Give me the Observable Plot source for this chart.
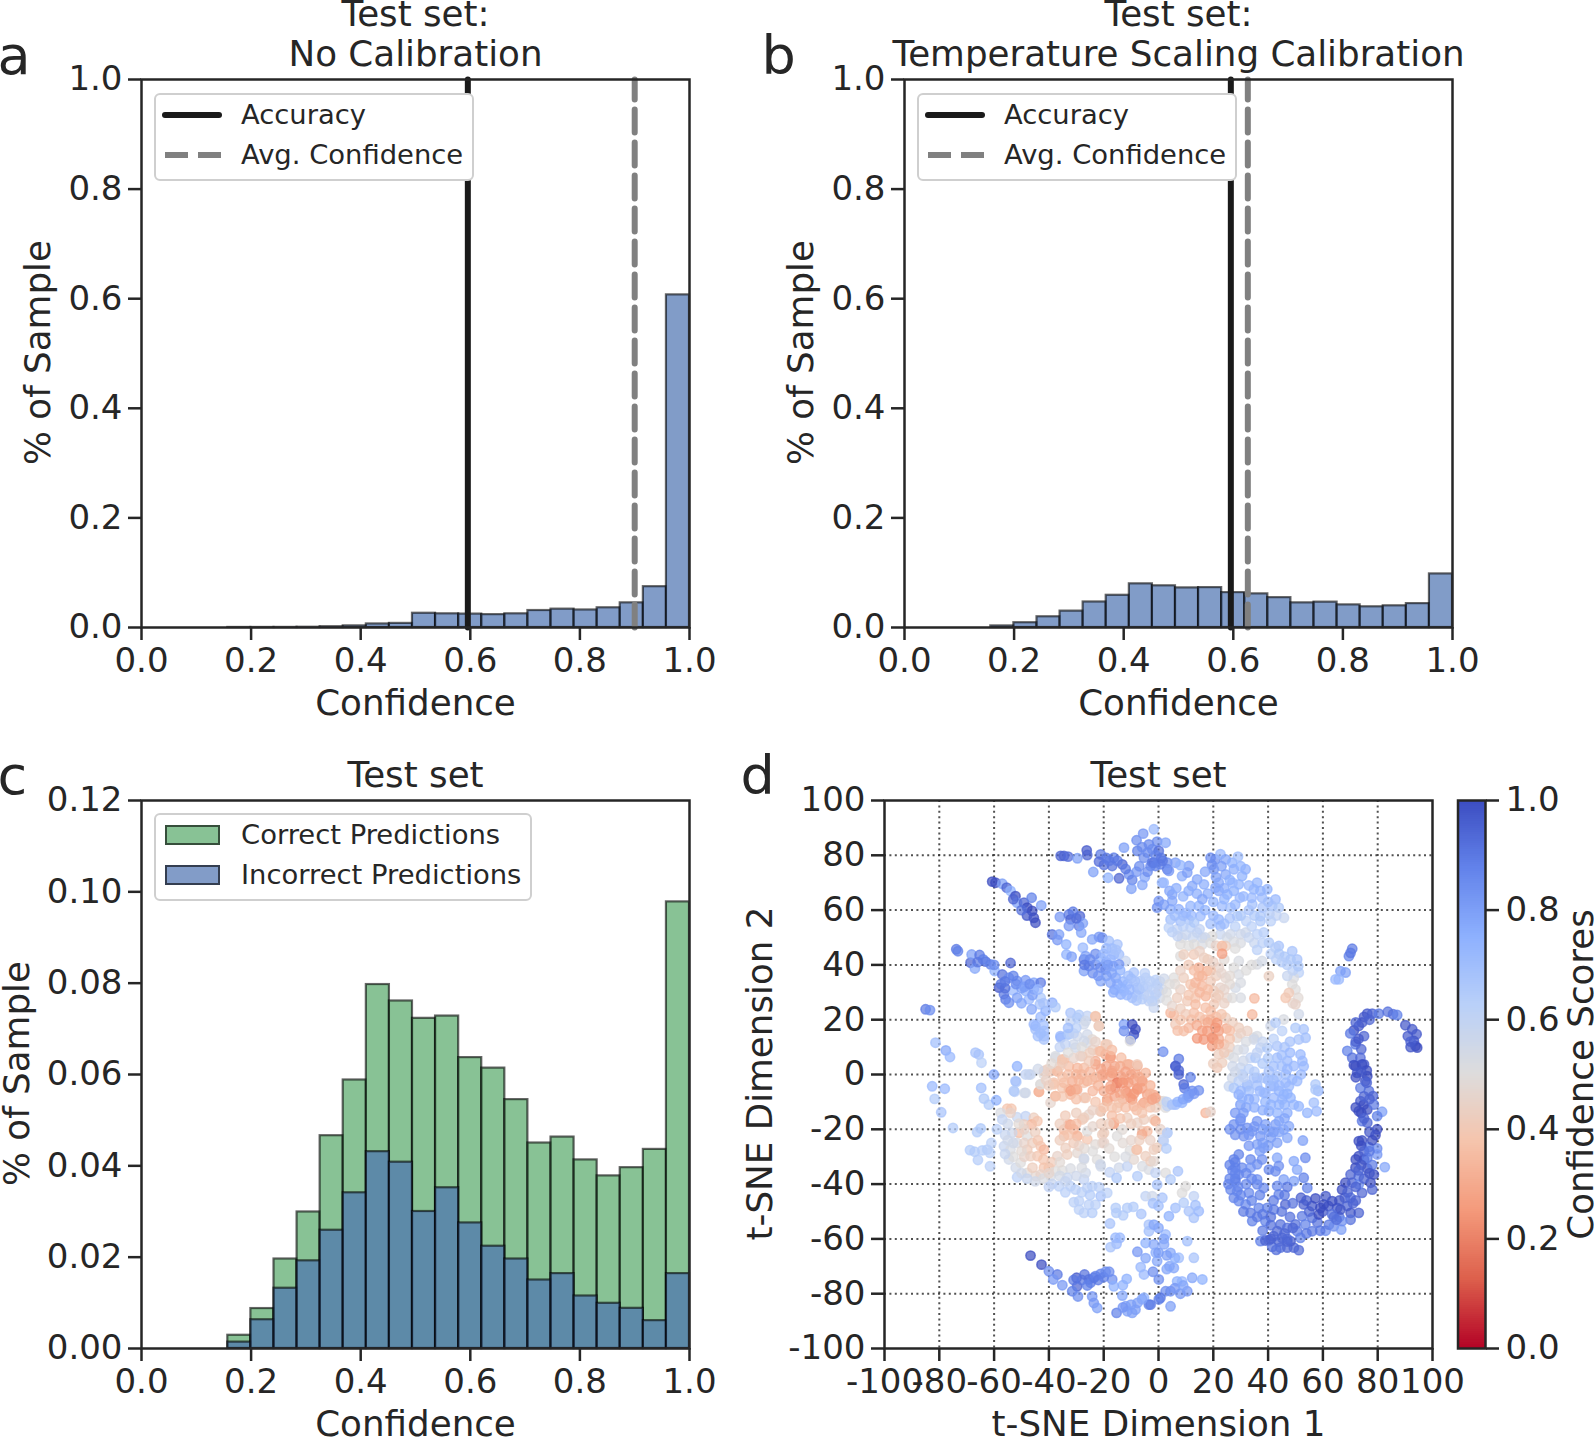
<!DOCTYPE html>
<html><head><meta charset="utf-8">
<script src="https://cdn.jsdelivr.net/npm/d3@7"></script>
<script src="https://cdn.jsdelivr.net/npm/@observablehq/plot@0.6"></script>
<style>
html,body{margin:0;padding:0;background:#fff}
#chart{position:relative;width:1594px;height:1437px;overflow:hidden;background:#fff;font-family:"DejaVu Sans",sans-serif;color:#262626}
#chart svg{position:absolute;background:transparent;max-width:none}
.legend{position:absolute;box-sizing:border-box;background:#fff;border:2px solid #cfcfcf;border-radius:6px}
.legend span{position:absolute;font-size:27.4px;line-height:32px;white-space:nowrap}
.legend i{position:absolute;display:block;box-sizing:border-box}
</style></head><body><div id="chart"></div>
<script>
// ---------- histogram data ----------
const binEdges=[0.1575,0.1996,0.2418,0.2839,0.326,0.3681,0.4103,0.4524,0.4945,0.5366,0.5788,0.6209,0.663,0.7051,0.7473,0.7894,0.8315,0.8736,0.9158,0.9579,1.0];
const noCalibration=[0.0001,0.0001,0.0002,0.0005,0.0015,0.003,0.0065,0.0075,0.026,0.025,0.0245,0.0235,0.025,0.031,0.0335,0.032,0.036,0.045,0.0745,0.607];
const allPredictions=[0.0029,0.00875,0.0196,0.0299,0.0466,0.0588,0.0797,0.0761,0.0723,0.0728,0.0637,0.0614,0.0545,0.045,0.0463,0.0413,0.0378,0.0396,0.0436,0.0978];
const incorrect=[0.0014,0.0063,0.0132,0.0192,0.0259,0.0341,0.0431,0.0408,0.03,0.0352,0.0275,0.0224,0.0196,0.015,0.0164,0.0115,0.0099,0.0088,0.0061,0.0164];
const accuracyLine=0.5955, confidenceA=0.9, confidenceB=0.6265;
const ticks01=[0,0.2,0.4,0.6,0.8,1];
const ticksC=[0,0.02,0.04,0.06,0.08,0.1,0.12];
const ticksTsne=[-100,-80,-60,-40,-20,0,20,40,60,80,100];
const gridTsne=[-80,-60,-40,-20,0,20,40,60,80];

// ---------- t-SNE points: [dim1, dim2, confidence] ----------
const topChain=[[-35.7,79.8,.95],[-34.5,79.8,.95],[-33,79.5,.93],[-29.6,78.9,.8],[-26.2,81.8,.97],[-26,80.1,.95],[-23.8,73.9,.8],[-21.1,80.3,.9],[-21.7,77.7,.93],[-19.9,76.5,.92],[-18.4,71.8,.75],[-16.3,79.1,.88],[-16.9,76.1,.92],[-13.2,76.7,.95],[-14.4,71.6,.95],[-10.8,73,.85],[-9.6,71,.88],[-9.9,67.8,.8],[-5.9,69.2,.78],[-5,72,.78],[-12.6,82.8,.8],[-8,85.5,.85],[-7.7,81.6,.88],[-5.6,87.9,.82],[-5.3,79.1,.85],[-2.9,76.1,.85],[-3.5,84,.86],[-1.7,89.5,.72],[-.5,85,.85],[2.6,84.6,.78],[-2.3,82.2,.85],[.1,81.6,.92],[-1.7,77.3,.92],[.7,76.7,.88],[3.2,74.9,.9],[1.3,70,.72],[-2.3,77.3,.9],[-1.1,76.1,.88],[3.2,77.3,.85],[-15,78,.9],[-18,78,.9],[-12,75,.9],[-19,79,.9],[-8,74,.82],[-7,76,.85],[-4,74,.85],[-1,80,.88],[1,79,.9],[1.5,78,.9],[-6,83,.85],[-4,81,.85]];
const hookChain=[[-60.7,70.4,1],[-59.5,70,1],[-57,69.6,.8],[-55.4,68.2,.95],[-54,67,.75],[-52.2,65.1,1],[-51.6,62.7,.8],[-49.1,62.7,.95],[-46.3,64.5,.88],[-47.9,60.9,1],[-46.1,59.7,1],[-45.5,57.2,1],[-44.9,55.4,1],[-42.8,61.7,.8],[-36,57.5,.82],[-32.7,58.4,.9],[-32.1,56.6,.95],[-28.7,57.8,.95],[-31.2,59.4,.9],[-32.7,54.2,.82],[-29,54.2,.9],[-27.6,55.2,.8],[-28.2,51.8,.78],[-38.8,51.1,.92],[-36.3,51.1,.8],[-36.9,49.1,.82],[-33.7,47.5,.75],[-33.6,43.8,.75],[-31.7,43,.8],[-27.6,46.3,.72],[-24.2,49.3,.78],[-21.7,50.2,.82],[-20.5,49.9,.85],[-27.2,42,.9],[-26.6,43.2,.8],[-27.2,37.8,.8],[-25.4,39.6,.88],[-23,40.2,.85],[-21.1,42.6,.75],[-21.1,39,.85],[-19.3,38.4,.85],[-21.1,34.1,.78],[-18.1,48.7,.7],[-15,47.5,.68],[-16.3,43.8,.72],[-14.4,43.8,.7],[-12,41.4,.58],[-14.4,40.2,.82],[-15.6,35.3,.78],[-13.8,29.2,.76],[-11.4,32.9,.72],[-9,37.2,.68],[-12.6,30.5,.72],[-7.8,31.7,.7],[-9.6,28,.7],[-6.5,34.1,.65],[-5.3,29.2,.65],[-4.7,35.3,.64],[-3.5,26.8,.6],[-13,34,.74],[-10,35,.7],[-16,31,.76],[-8,29,.68],[-4,32,.62],[-23,44,.85],[-25,42,.85],[-24,37,.85],[-22,36,.82],[-19,41,.78],[-20,44,.72],[-27,40,.9],[-30,57,.92],[-48,58,.98],[-50,60,.92],[-53,64,.95],[-19,46,.72],[-17,46,.7],[-15.5,45.5,.68],[-17.5,42,.72],[-18.5,40,.8],[-16.5,39.5,.8],[-14,38,.75],[-17,37,.78],[-19,36,.8],[-15,33,.76],[-17.5,33.5,.78],[-13.5,31.5,.74],[-16.5,30,.76],[-11,36,.7],[-8.5,34,.68],[-10.5,31,.72],[-7,31,.68],[-5.5,32,.64],[-11.5,29,.72],[-8,27,.68],[-6,27.5,.64],[-3.5,29,.6],[-2,31,.62],[-1,34.5,.62],[.5,34,.6],[-3,34,.62],[-5,37,.62],[-1.5,27,.58],[.5,28,.55],[1.5,31,.55]];
const leftChain=[[-85,23.8,.9],[-83.4,23.5,.85],[-73.8,45.7,.9],[-73.2,45,.88],[-68.6,40.8,.95],[-68.2,43.8,.8],[-65.3,43.6,.9],[-67,38.7,.78],[-63.1,41.2,.92],[-61.3,40.2,.88],[-59.8,37.8,.75],[-54,40.7,.95],[-57,36.5,.92],[-54.6,35.3,.85],[-51.6,34.1,.85],[-48.5,34.4,.82],[-45.5,33.5,.78],[-43,33.5,.9],[-58.2,31.7,.97],[-56.4,29.3,.9],[-53.1,30.7,.72],[-48.5,30.5,.75],[-45.5,31.1,.78],[-55.8,27.4,.9],[-51.6,28,.8],[-54.6,26.2,.85],[-47.3,27.4,.72],[-43,28,.66],[-43.3,25.6,.68],[-46.3,23.8,.78],[-41.2,23.2,.75],[-38.8,26.2,.76],[-37.6,24.6,.66],[-45.5,18.3,.72],[-44.9,16.5,.7],[-41.8,14,.7],[-41.8,15.9,.7],[-44.9,17.7,.72],[-41.8,12.8,.68],[-57.5,33,.9],[-56,31.5,.92],[-50,31.5,.8],[-46,29,.8],[-50,26,.78],[-52,33,.85],[-49,32,.8],[-47,33,.85],[-44,31,.72],[-42,26,.68],[-56,34,.9],[-53,36,.88],[-60,40,.85],[-64,42,.88],[-66,41,.9],[-43,21,.72],[-44,14,.7],[-42,18,.7],[-43,15,.7]];
const leftScatter=[[-81.4,11.6,.7],[-77.6,8.8,.78],[-76.1,6.4,.72],[-66.8,8,.68],[-65.6,7.3,.68],[-64.6,4.3,.62],[-51.6,3,.75],[-82.6,-4.3,.72],[-78,-5.2,.72],[-81.7,-8.9,.65],[-79.3,-13.8,.68],[-75,-19.5,.65],[-64.7,-4.9,.7],[-63.7,-8.8,.66],[-61.9,-11,.65],[-59.2,-9.4,.75],[-64.9,-19.7,.66],[-66.2,-21,.65],[-68.8,-27.6,.65],[-67.1,-28.2,.65],[-65.9,-31.2,.64],[-64.3,-27.7,.64],[-62.5,-27.4,.64],[-61,-25,.62],[-61.5,-28.6,.62],[-61.5,-33.5,.62],[-60.1,0,.78],[-51.9,-2.7,.65],[-52.5,-6.3,.62],[-48.9,-6.7,.55],[-46.7,0,.57],[-48.5,0,.6],[-41.8,0,.5],[-43,-3.6,.5],[-47.3,0,.58],[-52.2,-2.4,.68],[-52.8,-6,.65]];
const paleNorth=[[-35.7,13.4,.72],[-33.3,14.6,.65],[-29.6,14,.55],[-30.9,11,.55],[-26,11.6,.52],[-26,14.6,.55],[-24.2,12.8,.48],[-19.3,11,.38],[-37.6,6.1,.52],[-34.5,5.5,.36],[-27.8,6.7,.4],[-32.1,22.5,.68],[-29,21.7,.65],[-26,21.4,.6],[-23,21.1,.4],[-21.7,17.7,.4],[-32.1,19.5,.6],[-27.2,18.3,.55],[-35.8,14,.72],[-32.7,14.6,.65],[-29.7,20.7,.65],[-26.6,19.5,.55],[-23,21.3,.38],[-21.8,17.7,.42],[-27.2,12.2,.55],[-30.3,9.8,.55],[-37.6,6.7,.52],[-12.6,18.3,.8],[-12.6,15.9,.85],[-9.6,18.3,1],[-8.4,16.5,1],[-9,14.6,1],[-10.2,12.8,.9],[-10.4,12.2,.5],[-34,11,.6],[-31,15,.6],[-28,10,.5],[-24,9,.45],[-30,17,.62],[-36,10,.6],[-33,17,.7]];
const orangeCore=[[-23,4.9,.3],[-21.7,8.5,.38],[-17.5,6.7,.26],[-19.3,7.3,.3],[-13.6,6.1,.35],[-16.9,1.3,.3],[-10.8,3.7,.3],[-7.7,3.1,.3],[-39.4,1.2,.4],[-36.9,1.2,.4],[-32.7,3,.35],[-35.1,4.3,.42],[-29.6,2.4,.33],[-27.2,2.4,.35],[-23,3.7,.3],[-20.5,0,.27],[-17.5,-.6,.28],[-15,-3,.2],[-13.8,-.6,.26],[-11.4,-6.7,.26],[-9.6,-9.1,.27],[-7.7,-5.5,.26],[-5.9,-2.4,.28],[-4.1,-7.3,.28],[-17.5,-5.5,.25],[-18.7,-9.7,.28],[-27.2,-3,.38],[-32.1,-7.3,.33],[-32.7,-5.5,.32],[-30.3,-5.5,.33],[-35.1,-4.9,.38],[-38.2,-3,.38],[-37.6,-7.9,.38],[-39.4,-10.3,.46],[-43.6,-6.3,.33],[-27.2,-8.5,.45],[-17.5,6.1,.27],[-18.7,11,.42],[-21.2,8.5,.35],[-25.4,4.9,.4],[-28.5,6.7,.45],[-35.1,5.5,.38],[-37,1.2,.35],[-40.6,1.8,.42],[-31.5,-2.4,.3],[-32.1,-6,.27],[-29.7,-5.5,.3],[-34.5,-3,.35],[-38.2,-3.6,.38],[-37.6,-7.9,.36],[-43.7,-6.3,.33],[-26.6,-8.5,.38],[-26,-2.4,.33],[-20.5,-.6,.28],[-24.2,-1.8,.35],[-16.9,.6,.27],[-15.1,-3,.2],[-15.7,-4.8,.22],[-17.5,-4.2,.28],[-12,-6.1,.26],[-10.2,-8.5,.25],[-7.8,-5.1,.25],[-6,-2.4,.28],[-4.7,.6,.33],[-8.4,.6,.3],[-11.4,3.7,.33],[-7.8,3.7,.4],[-12.6,-1.8,.3],[-18.7,-9.1,.32],[-13.9,-7.3,.3],[-5.3,-10.3,.27],[-1.7,-7.5,.3],[-3.5,-9.7,.33],[.7,-9.7,.42],[2.6,-12.1,.5],[-41.8,1.3,.45],[-43.1,-3.6,.5],[-48.5,-6.7,.55],[-33,0,.36],[-35,-1,.37],[-30,0,.33],[-28,0,.33],[-25,1,.34],[-23,-1,.34],[-21,2,.29],[-19,3,.28],[-16,3,.28],[-14,3,.3],[-12,1,.28],[-10,0,.28],[-13,-3,.24],[-11,-3,.25],[-9,-2,.27],[-7,-1,.3],[-6,-5,.27],[-3,-4,.32],[-3,-7,.33],[-9,-7,.25],[-13,-9,.3],[-16,-8,.28],[-20,-6,.3],[-22,-4,.32],[-24,-6,.34],[-29,-2,.33],[-35,-8,.38],[-30,-9,.36],[-23,-10,.38],[-40,-4,.42],[-41,-2,.44],[-36,3,.4],[-44,2,.55],[-39,4,.48],[-31,6,.45],[-33,8,.5],[-25,8,.42],[-23,12,.45],[-17,9,.35]];
const orangeSouth=[[-21.1,-13.4,.36],[-16.3,-17.6,.3],[-14.4,-10.3,.38],[-11.4,-15.8,.42],[-9,-11.6,.33],[-5.9,-11,.33],[-7.7,-17.6,.44],[-13.2,-20.1,.48],[-19.9,-21.3,.42],[-5.9,-20.7,.4],[-4.1,-20.7,.35],[-25.4,-14.6,.46],[-27.8,-16.4,.4],[-32.1,-18.3,.31],[-34.5,-20.1,.36],[-29.6,-22.5,.35],[-26,-23.7,.38],[-26,-20.7,.5],[-33.9,-26.8,.42],[-36.9,-29.8,.45],[-33.3,-29.2,.42],[-29.6,-28.6,.47],[-27.2,-31,.52],[-22.4,-31,.5],[-20.5,-25,.45],[-15.1,-22.5,.5],[-10.4,-27.7,.5],[-8,-27.4,.38],[-5.9,-33.5,.52],[-14.4,-34,.55],[-21.1,-33.5,.55],[-17.8,-35.7,.6],[-15.3,-37.7,.66],[-11.4,-33.5,.6],[-7.7,-37.1,.65],[-3.5,-34.7,.52],[-9,-31,.47],[-4.7,-29.8,.42],[-15.1,-12.1,.38],[-16.3,-18,.3],[-21.2,-13.4,.42],[-27.2,-15.8,.42],[-32.7,-18.2,.31],[-34.5,-22.5,.36],[-29.7,-22.5,.36],[-20.5,-21.9,.42],[-23,-25.5,.48],[-19.9,-24.9,.45],[-27.2,-30.6,.55],[-21.2,-32.8,.55],[-6,-21.9,.3],[-7.8,-27.4,.38],[-2.9,-31.6,.42],[-1.7,-16.4,.42],[-5.3,-16.4,.42],[3.2,-21.3,.68],[1.9,-24.3,.62],[-.5,-26.7,.42],[-1.1,-17,.33],[.7,-20,.45],[3.2,-21.3,.62],[1.7,-23.7,.6],[2.9,-27,.65],[-1.7,-27.4,.42],[-1.7,-31.6,.47],[-1.1,-35.9,.6],[2.6,-35.9,.5],[-20,-12,.38],[-17,-12,.38],[-12,-12,.35],[-8,-13,.36],[-6,-14,.38],[-3,-12,.37],[-1,-12,.42],[-10,-18,.42],[-14,-16,.38],[-17,-15,.36],[-24,-13,.44],[-30,-14,.42],[-34,-15,.4],[-36,-18,.42],[-30,-18,.36],[-31,-20,.33],[-33,-22,.38],[-36,-24,.42],[-31,-25,.4],[-29,-26,.44],[-27,-27,.48],[-24,-28,.5],[-18,-27,.48],[-16,-30,.5],[-12,-30,.52],[-7,-24,.42],[-3,-24,.44],[-10,-24,.46],[-13,-25,.48],[-18,-18,.42],[-21,-18,.42],[-24,-19,.46]];
const leftRing=[[-55.2,-12.5,.38],[-53.7,-12.5,.38],[-57.6,-14,.52],[-57,-16.4,.6],[-51.6,-15.6,.58],[-48.5,-15.2,.6],[-45.5,-15.8,.42],[-46.3,-18.2,.33],[-44.2,-17,.38],[-49.1,-18.2,.42],[-50.9,-21.3,.35],[-47.9,-22.5,.5],[-53.4,-21.3,.56],[-56.4,-26.2,.58],[-51.6,-25,.52],[-54,-27.4,.52],[-47.9,-27.4,.4],[-43,-26.2,.38],[-41.8,-27.4,.34],[-44.2,-29.8,.38],[-46.7,-29.8,.42],[-54.6,-31,.55],[-52.1,-34,.55],[-50.3,-32.2,.5],[-51.6,-37.5,.62],[-47.9,-35.9,.48],[-44.8,-37.1,.47],[-41.8,-34,.38],[-40,-34,.38],[-43,-36.5,.45],[-39.4,-37.1,.52],[-37.6,-35.3,.5],[-35.1,-35,.5],[-32.1,-34.3,.52],[-33.3,-37.7,.58],[-38.8,-39.9,.58],[-36.3,-40.8,.62],[-32.1,-40.8,.62],[-30.3,-42,.62],[-27.2,-38.3,.6],[-26,-41.4,.62],[-26.6,-35.9,.55],[-24.2,-40.8,.62],[-49,-20,.45],[-53,-30,.5],[-49,-30,.45],[-46,-34,.42],[-56,-22,.58],[-55,-24,.55],[-53,-25,.55],[-56,-29,.58],[-50,-28,.48],[-49,-25,.45],[-46,-25,.42],[-44,-24,.38],[-45,-21,.42],[-50,-36,.55],[-48,-38,.58],[-45,-39,.55],[-42,-38,.52],[-40,-36,.46],[-42,-31,.38],[-39,-32,.4],[-36,-32,.48],[-36,-37,.54],[-34,-39,.58],[-30,-37,.56],[-28,-34,.52],[-40,-41,.6],[-28,-43,.62],[-25,-44,.64],[-34,-43,.62],[-51,-18,.48],[-55,-18,.56],[-54,-14,.45],[-59,-20,.62]];
const paleSouth=[[-30.9,-46.6,.62],[-29,-46.2,.62],[-29,-49.3,.62],[-27.2,-50.5,.62],[-25.4,-47.5,.62],[-24.2,-50.5,.64],[-23,-47.5,.62],[-21.1,-44.4,.68],[-21.7,-41.1,.62],[-18.7,-43.2,.62],[-17.7,-54.4,.68],[-15.6,-48.7,.65],[-15.4,-50.5,.65],[-12.9,-51.4,.65],[-11.4,-48.7,.65],[-9.2,-48.3,.65],[-6.3,-50.9,.68],[-15.7,-59.6,.72],[-14.1,-59.6,.72],[-15.3,-61.8,.72],[-17.5,-63,.68],[-7.7,-64.7,.82],[-4.7,-61.5,.75],[-3.5,-57.2,.7],[-4.7,-67,.78],[-6.5,-70.3,.72],[-5.3,-73,.72],[-3.5,-54.8,.68],[-4.7,-44.4,.6],[4.4,-38.3,.65],[7.1,-35.3,.68],[-.5,-40.2,.68],[-2.3,-44.4,.55],[1.4,-45,.68],[8.6,-43.2,.5],[9.9,-40.8,.5],[12.9,-44.4,.6],[6.2,-48.7,.7],[3.8,-51.7,.75],[11.1,-49.9,.68],[12.9,-52.3,.68],[14.7,-49.9,.72],[13.5,-47.7,.7],[9.2,-46.8,.65],[-1.7,-54.8,.78],[2.6,-58.4,.72],[10.5,-60.8,.7],[-1.7,-62,.78],[4.4,-65.1,.78],[7.4,-66.9,.7],[12.9,-66.9,.68],[5.6,-70.6,.78],[-.5,-68.1,.78],[.1,-74.8,.85],[12.3,-74.2,.78],[16,-74.8,.75],[8.6,-75.5,.72],[6.8,-75.5,.75],[4.4,-79.1,.85],[2.6,-79.1,.85],[10.5,-79.1,.82],[.7,-81.5,.9],[4.4,-84.6,.8],[-2.9,-84,.9],[.1,-82.1,.88],[3,-71,.78],[-1,-65,.76],[2,-62,.78],[0,-48,.7],[-2,-47,.7],[0,-56,.78],[2,-60,.78],[0,-65,.8],[4,-70,.78],[6,-67,.75],[3,-66,.8],[-2,-72,.85],[6,-78,.82],[8,-80,.82],[9,-77,.78]];
const southArc=[[-46.7,-66.1,1],[-42.7,-69.4,1],[-40,-71.8,.85],[-36.9,-73,.9],[-38.4,-74.8,.82],[-35.1,-76.9,.82],[-29.9,-74.2,.97],[-29.7,-77.3,.95],[-31.5,-79.1,.88],[-29.4,-81,.85],[-25.4,-74.8,.9],[-23.6,-74.2,.9],[-21.1,-72.8,.87],[-19.3,-72,.85],[-24.8,-76,.9],[-23,-73.6,.88],[-16.9,-74.8,.85],[-16.3,-77.3,.75],[-13,-76.9,.75],[-11.6,-74.6,.75],[-24.2,-81,.82],[-23.6,-83.4,.82],[-22.4,-85.2,.8],[-13.2,-80.7,.78],[-15.3,-87,.88],[-12,-84.6,.8],[-9.6,-87,.8],[-7.7,-83.4,.8],[-11.4,-86.4,.8],[-5.3,-81.5,.75],[-3.5,-84,.88],[-8.4,-85.8,.8],[-28,-75,.9],[-22,-75,.9],[-20,-74,.88],[-26,-77,.88],[-27,-73,.92],[-18,-72,.85],[-31,-75,.9],[-10,-84,.8],[-6,-82,.78],[-13,-85,.82]];
const hubDark=[[1.7,8.3,.85],[7.4,5.7,.9],[6.2,3.1,.95],[7.4,1.5,.95],[6.2,3,.95],[7.4,0,.95],[9.2,-3.6,.95],[11.7,-1,.88],[14.7,-5.8,.85],[12.3,-6,.85],[10.5,-8.5,.78],[8.6,-10.3,.75],[6.2,-11,.72],[3.2,-11.5,.6],[1.9,-9.7,.5],[-1.1,-8.5,.28],[-2.3,-9.1,.28],[17.2,-14,.33],[19,-13.6,.45],[9.5,-5,.9],[11,-7,.82],[3,-10,.62],[5,-11,.68],[7,-10,.74],[9,-9,.78],[11,-8,.8],[13,-7,.82]];
const upperLight=[[19,79.1,.85],[20.8,78.5,.85],[22.6,80.4,.72],[20.2,74.9,.83],[24.5,78.5,.78],[26.9,77.3,.75],[29,79.5,.7],[24.5,73,.78],[27.5,74.9,.76],[31.8,74.9,.76],[30.5,72.4,.75],[22,67,.78],[20.8,68.2,.78],[25.1,65.7,.75],[27.5,67,.75],[29.7,64.5,.72],[29.3,69.4,.74],[34.8,67.6,.74],[37.2,67,.74],[39.7,67.6,.74],[37.8,64.5,.72],[42.7,63.9,.72],[23.2,61.5,.72],[28.7,57.8,.66],[26.3,60.9,.7],[34.2,62.1,.7],[37.2,57.8,.66],[41.5,61.5,.68],[43.9,60.9,.66],[45.8,57.2,.58],[37.2,56,.66],[22,56.6,.74],[22.6,54.2,.74],[11.7,61.5,.74],[4.4,60.3,.76],[7.4,60.3,.76],[14.7,61.5,.74],[15.3,57.8,.72],[5,65.7,.78],[5,63.3,.78],[.1,63.3,.82],[-.5,60.9,.84],[4.4,56.6,.7],[12.3,68.8,.78],[14.1,71.2,.78],[16.6,69.4,.76],[8.6,72.4,.76],[11.1,76.1,.8],[6.2,77.3,.8],[8,76.4,.74],[10.5,73.7,.8],[1.9,70,.72],[3.8,74.3,.82],[19.5,76.5,.84],[21,72,.8],[27,70,.72],[40,63,.7],[33,60,.68],[9,58,.72],[11,56.5,.68],[17,74,.78],[2,62,.8],[4,67,.78],[6.5,68,.76],[9,65,.74],[11,67,.76],[14,66,.76],[18,66,.76],[20,63,.74],[24,68,.76],[26,71,.75],[28,62,.72],[31,65,.72],[33,69,.72],[36,70,.74],[34,64.5,.72],[38,61,.68],[40.5,58.5,.64],[43,58,.6],[41,56,.62],[35,58,.66],[32,56,.62],[30,58,.66],[26,57,.68],[24,55,.7],[20,58,.72],[17,60,.74],[19,55,.7],[16,64,.78],[22,70,.78],[23,76,.8],[30,76,.74],[24,64,.74],[28,54,.62],[34,54,.62]];
const midBand=[[3.8,53.6,.62],[6.8,53,.6],[11.7,53.6,.62],[14.1,51.8,.6],[16,49.9,.58],[30,51.2,.56],[31.8,51.8,.56],[26.3,51.2,.56],[22.6,51.2,.58],[38.4,51.8,.64],[36,51.2,.62],[40.3,48.1,.66],[43.9,46.9,.68],[48.8,45,.68],[50.6,42,.68],[48.2,42,.66],[42.7,46.3,.64],[51.2,37.2,.62],[8.6,49.9,.52],[8,47.5,.5],[19.6,50.5,.5],[49.4,35.3,.52],[48.8,32.9,.5],[36,40.2,.52],[37.8,41.4,.54],[29.3,41.4,.52],[27.5,39,.5],[29.3,36.5,.52],[28.1,31.7,.54],[30,33.5,.52],[40.3,35.9,.43],[51.2,22,.55],[45.7,20.1,.52],[40.9,17.7,.55],[34.8,13.4,.52],[36,14,.52],[28.7,13.4,.47],[5.6,35.3,.5],[8,43.2,.5],[-1.1,29.2,.62],[-.5,32.9,.62],[.1,30.5,.6],[-2.3,26.8,.62],[-1.7,24.4,.58],[2,35,.55],[3,30,.5],[34,40,.5],[24,42,.48],[32,38,.5],[25,28,.46],[6,58,.7],[8,56,.7],[10,59,.72],[12,58,.72],[13,55.5,.66],[9,54,.62],[5,52,.62],[7,50.5,.6],[10,51,.58],[12.5,50,.58],[15,53,.6],[17,50,.56],[16,47.5,.52],[13,47.5,.5],[11,47,.5],[19,48,.5],[21,47,.45],[25,50,.54],[27.5,48.5,.52],[30,48,.52],[28,46,.5],[33,50,.58],[35,48,.58],[38,48,.62],[36,45.5,.62],[41,44,.62],[44,44,.66],[46,43,.66],[47,40,.64],[45,41,.64],[43,42,.62],[49,38,.62],[51,39.5,.66],[47,36,.58],[50,31,.5],[51,28,.48],[49,26,.46]];
const salmonCore=[[9.2,43.8,.42],[12.9,43.8,.4],[16.6,42.6,.42],[22,39,.45],[24.5,35.3,.46],[22.6,31.7,.45],[9.2,35.3,.42],[12.9,31.7,.38],[6.8,28,.42],[10.5,26.8,.4],[11.7,32.9,.38],[13.5,28,.37],[20.2,30.5,.42],[6.2,18.3,.4],[9.2,15.9,.36],[5.6,21.9,.35],[46.4,28,.38],[50,25.6,.45],[47.6,29.8,.4],[24.5,46.9,.43],[20.2,25.6,.4],[29.3,17.1,.42],[32.4,15.9,.44],[24.5,20.7,.42],[14.7,39,.31],[17.8,37.8,.32],[13.5,33.5,.34],[16,32.3,.33],[17.2,28.6,.32],[13.5,25.6,.35],[17.2,24.4,.36],[19,23.1,.36],[4.4,22.5,.34],[35,27.8,.34],[34.2,21.9,.33],[23.2,46.9,.35],[12.9,22.5,.36],[14.7,35.9,.33],[18,42,.42],[15,45,.44],[19,34,.4],[21,28,.4],[8,38,.44],[11,40,.4],[13,38,.36],[16,36,.33],[19,38,.38],[21,36,.42],[20,41,.44],[23,37,.46],[26,36,.48],[26,33,.48],[24,31,.46],[22,29,.42],[24,26,.44],[27,28,.5],[30,28,.52],[18,31,.36],[15,30,.34],[11,29,.38],[8,31,.44],[6,33,.48],[4,33,.5],[3,27,.5],[5,25,.46],[8,24,.42],[10,22,.4],[12,20,.36],[15,21,.36],[17,20,.36],[19,20,.34],[21,21,.34],[8,20,.38],[7,16,.36],[11,17,.34],[14,18,.3],[16,16,.27],[18,19,.3]];
const redCore=[[23.2,44.1,.26],[14.1,13.2,.24],[16.5,12.8,.24],[19.6,13.4,.23],[21.4,18.9,.25],[17.8,15.9,.26],[22,15.9,.26],[24.8,16.8,.3],[19.6,10.4,.26],[20.8,17.1,.24],[22,7.3,.42],[23.2,4.3,.42],[25.7,7.3,.5],[21.4,2.5,.4],[27.5,6.1,.52],[31.1,9.2,.55],[34.8,12.8,.55],[24,11,.36],[22,13,.3],[26,13,.38],[20,13,.24],[22,11,.3],[24,8,.4],[20,4,.42],[26,10,.42],[23,22,.38],[27,19,.42],[30,15,.44],[26,16,.36]];
const rightLower=[[37.2,9.8,.6],[33.6,6.1,.6],[29.9,2.5,.58],[35.4,6.1,.66],[39.7,9.8,.66],[43.3,10.4,.68],[43.3,6.1,.7],[47,4.9,.72],[51.8,7.3,.72],[52.5,4.9,.72],[49.4,3.1,.72],[45.1,15.9,.62],[42.7,18.9,.64],[50,17,.66],[53,16.5,.68],[53.7,13.4,.7],[51.2,12.8,.68],[25.7,-4.3,.58],[26.9,-1.2,.55],[29.3,-2.4,.62],[32.4,-4.3,.66],[30.5,0,.62],[36,-1.2,.68],[38.4,-6.7,.7],[40.3,1.2,.68],[43.3,-.6,.7],[48.8,-1.8,.72],[46.4,-3,.72],[57.3,-3.6,.66],[58.3,-6,.72],[46.4,0,.7],[42.1,-4.3,.72],[39,-6.7,.72],[40.9,-4.2,.72],[50.6,-2.4,.72],[42.1,-8.5,.72],[45.1,-9.1,.72],[49.4,-11,.72],[47,-14,.76],[51.2,-11.6,.74],[54.3,-14,.74],[57.7,-13.4,.72],[56.7,-10.3,.7],[57.3,-5.5,.66],[40.3,-13.4,.76],[43.3,-14,.74],[45.7,-7.3,.74],[48.2,-8.5,.74],[47.6,-4.3,.72],[29.9,-11,.8],[30.5,-8.5,.74],[27.5,-4.9,.66],[32.4,-3.6,.68],[34.8,-1.2,.68],[38.4,-1.2,.68],[29.3,-7.3,.76],[28,1,.55],[33,2,.62],[45,3,.7],[32,12,.52],[29,9,.52],[31,5,.56],[36,8,.6],[40,6,.66],[38,12,.58],[42,13,.62],[46,10,.68],[48,12,.68],[48,8,.72],[45,7,.7],[38,4,.66],[42,3,.7],[47,2,.72],[35,1,.64],[31,-1,.6],[27,3,.55],[33,-6,.7],[36,-4,.7],[44,-6,.74],[52,0,.72],[53,3,.72],[42,-2,.7],[32,-12,.78],[35,-12,.76],[38,-13,.76],[35,-9,.72],[37,-6,.72],[39,-10,.74],[41,-11,.74],[44,-11,.74],[46,-11,.74],[40,-2,.7],[44,-4,.72],[47,-7,.74],[33,-9,.76],[30,-6,.72]];
const blueMid=[[31.1,-22.5,.84],[27.5,-18.2,.84],[36,-25.5,.8],[38.4,-26.8,.8],[37.2,-22.5,.82],[39,-18.2,.8],[42.7,-18.2,.8],[45.7,-20.1,.78],[47,-23.1,.78],[43.3,-24.9,.8],[47.6,-18.9,.78],[52.7,-24.1,.8],[29.9,-17,.84],[32.4,-19.5,.84],[40.3,-20.7,.8],[34.2,-20.7,.82],[27.5,-31,.88],[29.3,-29.2,.88],[33.6,-31,.86],[36,-32.8,.84],[30.5,-34,.86],[29.3,-36.5,.86],[28.1,-39,.87],[26.3,-42,.87],[28.7,-42.6,.86],[27.5,-45,.87],[31.8,-47.4,.86],[29.3,-46.2,.86],[36.6,-48.7,.88],[33.6,-50.5,.9],[34.2,-53.5,.88],[39,-53.5,.88],[39.7,-48.7,.88],[42.1,-49.3,.9],[33,-43.2,.86],[36,-40.1,.86],[38.4,-41.4,.86],[40.3,-34.7,.86],[42.7,-35.3,.86],[43.3,-30.4,.78],[43.9,-33.4,.84],[45.7,-38.3,.8],[43.3,-40.7,.86],[43.9,-43.8,.88],[46.3,-47.4,.95],[49.4,-31.6,.78],[53.6,-30.4,.86],[50.6,-34.7,.78],[53,-37.7,.88],[54.3,-41.4,.88],[49.4,-38.9,.8],[37.8,-31,.84],[33.6,-34,.82],[36,-38.3,.84],[27,-35,.86],[28,-34,.87],[29,-41,.86],[26,-20,.84],[28,-22,.84],[30,-20,.84],[33,-22,.82],[35,-19,.82],[36,-17,.82],[38,-20,.8],[41,-23,.8],[44,-21,.78],[46,-16,.78],[44,-17,.78],[42,-21,.8],[37,-28,.8],[33,-26,.82],[38,-25,.8],[28,-14,.82],[31,-14,.8],[30,-16,.82],[40,-26,.8],[28,-32,.88],[26,-33,.88],[28,-38,.88],[26,-38,.87],[28,-36,.87],[25.5,-40,.87],[30,-44,.87],[32,-36,.86],[32,-40,.86],[34,-38,.86],[34,-46,.88],[37,-44,.88]];
const blueSwath=[[56.1,-52.3,.92],[56.1,-57.2,.9],[53,-47.4,.96],[52.4,-51.7,.9],[50,-54.7,.92],[50.6,-57.2,.9],[47,-56,.92],[44.5,-54.7,.92],[43.3,-57.2,.94],[40.3,-60.5,.95],[37.2,-60.8,.88],[39,-60.6,.95],[41.5,-62.9,.92],[44.5,-63.2,.92],[47,-63.2,.94],[51.2,-64.1,.94],[49.4,-63.2,.94],[48.2,-60.8,.96],[51.8,-59.6,.88],[53.6,-54.7,.88],[45.1,-59.6,.94],[47,-60,.92],[42,-59,.94],[31,-50,.9],[36,-52,.9],[38,-51,.9],[41,-52,.92],[42,-46,.9],[46,-44,.9],[47,-41,.9],[45,-50,.92],[48,-52,.92],[49,-47,.92],[52,-45,.96],[55,-50,.94],[54,-46,.96],[58,-54,.92],[60,-50,.98],[56,-48,.98],[62,-48,.98],[64,-52,.92],[66,-46,.98],[68,-45,.96],[66,-52,.92],[61,-57,.85],[59,-57,.9],[54,-58,.9],[46,-58,.94],[44,-61,.94],[41,-60,.95],[43,-64,.92],[47,-61,.94],[41,-55,.92],[49,-56,.94],[38,-57,.9]];
const rightArc=[[71.3,16.1,1],[73.1,17.7,.97],[74.3,19,.97],[76.2,22.2,.97],[78,22.2,.95],[80.4,22.2,.9],[83.7,22.9,.92],[85.6,22,.92],[87.1,21.7,.88],[90.1,18,.98],[92.6,16.5,.98],[94.2,14.7,.97],[93.8,10.4,1],[93.2,12.2,.98],[94.4,9.8,1],[68.9,8.6,.88],[71.9,11,.9],[74,9.2,.95],[71.9,3.1,1],[75,3.7,.97],[70.7,6.1,.92],[73.7,6.1,.93],[76,1.5,1],[71.3,3.4,1],[74.3,3.7,1],[72.5,.6,.97],[76.2,-.6,1],[75.5,-2.4,.98],[73.7,-4.9,.9],[76.8,-6,.92],[78.3,-7.9,.95],[73.7,-9.7,.97],[74.9,-11,1],[73.1,-13.4,1],[76.2,-12.8,1],[78.6,-11,.9],[81.6,-13.6,.8],[79.8,-15.2,.88],[74.3,-17,.9],[76.2,-17.6,.95],[79.8,-20,1],[79.2,-22.1,1],[73.1,-24.3,1],[74.3,-24.1,1],[76.8,-26.5,.88],[79.8,-27,.85],[79.8,-29.2,.82],[73.1,-29.8,1],[75,-31,1],[82.6,-33.8,.78],[76.2,-30.4,.88],[71.9,-34,1],[76.2,-34.3,.98],[78.6,-36.5,1],[73.1,-37.1,.9],[70.1,-36.5,.95],[68.2,-39.5,1],[70.7,-39.5,.95],[77.4,-39.5,1],[78,-42,.95],[74.3,-43.2,.95],[73.1,-40.1,.85],[70.1,-45,.92],[68.9,-48,.95],[73.1,-50.5,.95],[70.1,-50.5,.98],[70.1,-53,.92],[66.4,-49.3,.98],[65.2,-48.7,.98],[63.4,-46.2,1],[60.3,-47.4,1],[57.3,-45.2,1],[59.1,-48.7,1],[58.5,-51.1,1],[62.2,-54.8,.9],[64,-55.4,.85],[66.7,-56.6,.8],[67,-53.5,.85],[63.4,-51.1,.92],[61,-44.4,.98],[70.7,45.9,.9],[69.5,43.2,.88],[70.1,44.4,.9],[66.4,37.7,.8],[68.3,37.2,.8],[64.6,34.7,.72],[65.8,34.7,.72],[72,-1,1],[74,1,.98],[76,-3,.95],[77,-9,.95],[75,-8,.95],[72,-12,1],[74,-14,1],[75,-16,.95],[77,-21,.98],[78,-24,1],[74,-26,1],[75,-28,.95],[77,-28,.9],[72,-31,1],[74,-33,.98],[78,-33,.9],[73,-35,.95],[75,-38,.95],[72,-41,.95],[77,-36,.98],[71,-47,.95],[67,-42,1],[69,-43,.95],[72,-46,.95],[65,-53,.92],[72,12,.95],[75,14,.95],[73,13,.97],[72,19,.95],[75,21,.97],[77,20,.95],[70,15,.9],[91,14,.97],[92,12,.95],[92,10,.98]];
const tsnePoints=[...topChain,...hookChain,...leftChain,...leftScatter,...paleNorth,...orangeCore,...orangeSouth,...leftRing,...paleSouth,...southArc,...hubDark,...upperLight,...midBand,...salmonCore,...redCore,...rightLower,...blueMid,...blueSwath,...rightArc];

// ---------- colours and styles ----------
const coolwarmReversed=["#b40426","#dd604c","#f49a7b","#f5c4ac","#dddcdc","#b9d0f9","#8db0fe","#6282ea","#3b4cc0"];
const confidenceColor={type:"linear",domain:[0,1],interpolate:d3.piecewise(d3.interpolateRgb,coolwarmReversed)};
const colorLevels=d3.range(256).map(i=>i/256);
const INK="#262626", BLUE="#4C72B0", GREEN="#55A868";
const FONT="DejaVu Sans";
const fmt1=d3.format(".1f"), fmt2=d3.format(".2f");
const root=document.getElementById("chart");

function label(text,o){return Plot.text([text],{text:d=>d,fill:INK,fontFamily:FONT,fontSize:35.7,lineAnchor:"middle",...o});}
function bars(values,fill){
  const rows=values.map((v,i)=>({x1:binEdges[i],x2:binEdges[i+1],y:v}));
  return Plot.rectY(rows,{x1:"x1",x2:"x2",y:"y",fill,fillOpacity:.7,stroke:"black",strokeOpacity:.6,strokeWidth:2.2});
}
function axes(xTicks,yTicks,xFmt,yFmt){
  const c={tickSize:13,stroke:INK,strokeWidth:2.5,fill:INK,fontSize:34,fontFamily:FONT,label:null};
  return [Plot.axisX({...c,ticks:xTicks,tickFormat:xFmt,tickPadding:7,lineAnchor:"top"}),
          Plot.axisY({...c,ticks:yTicks,tickFormat:yFmt,tickPadding:6})];
}
function mount(b,f,opts){
  const svg=Plot.plot({width:b.w,height:b.h,marginLeft:f.l-b.l,marginRight:b.l+b.w-f.r,marginTop:f.t-b.t,marginBottom:b.t+b.h-f.b,style:{background:"transparent",overflow:"visible"},...opts});
  svg.style.left=b.l+"px";svg.style.top=b.t+"px";root.appendChild(svg);
}
function legend(box,items){
  const el=document.createElement("div");el.className="legend";
  Object.assign(el.style,{left:box.l+"px",top:box.t+"px",width:box.w+"px",height:box.h+"px"});
  items.forEach(it=>{
    const s=document.createElement("span");s.textContent=it.text;
    s.style.left=(it.tx-box.l-2)+"px";s.style.top=(it.cy-16-box.t-2)+"px";el.appendChild(s);
    const i=document.createElement("i");i.style.left=(it.sx-box.l-2)+"px";i.style.width=it.sw+"px";
    if(it.kind==="solid"){i.style.top=(it.cy-3-box.t-2)+"px";i.style.height="6px";i.style.background="#1a1a1a";i.style.borderRadius="3px";}
    if(it.kind==="dash"){i.style.top=(it.cy-3-box.t-2)+"px";i.style.height="6px";i.style.background="repeating-linear-gradient(90deg,#808080 0 23px,transparent 23px 33px)";}
    if(it.kind==="patch"){i.style.top=(it.cy-10-box.t-2)+"px";i.style.height="20px";i.style.background=it.color;i.style.border="2px solid rgba(0,0,0,.6)";}
    el.appendChild(i);
  });
  root.appendChild(el);
}

// ---------- panels a, b ----------
function calibrationPanel(box,frame,titleLine1,titleLine2,letter,letterDx,values,conf){
  mount(box,frame,{
    x:{domain:[0,1]},y:{domain:[0,1]},
    marks:[
      bars(values,BLUE),
      Plot.line([[accuracyLine,0],[accuracyLine,1]],{x:d=>d[0],y:d=>d[1],stroke:"#1a1a1a",strokeWidth:6}),
      Plot.line([[conf,0],[conf,1]],{x:d=>d[0],y:d=>d[1],stroke:"#808080",strokeWidth:6,strokeDasharray:"23,10"}),
      Plot.frame({stroke:INK,strokeWidth:2.5}),
      ...axes(ticks01,ticks01,fmt1,fmt1),
      label(titleLine1,{frameAnchor:"top",dy:-65}),
      label(titleLine2,{frameAnchor:"top",dy:-25}),
      label("Confidence",{frameAnchor:"bottom",dy:76}),
      label("% of Sample",{frameAnchor:"left",rotate:-90,textAnchor:"middle",dx:-102.5,dy:-1}),
      label(letter,{frameAnchor:"top-left",fontSize:54,textAnchor:"start",dx:letterDx,dy:-23})
    ]
  });
}
calibrationPanel({l:0,t:0,w:745,h:740},{l:141,r:689,t:79,b:627},"Test set:","No Calibration","a",-144,noCalibration,confidenceA);
calibrationPanel({l:745,t:0,w:849,h:740},{l:904,r:1452,t:79,b:627},"Test set:","Temperature Scaling Calibration","b",-143,allPredictions,confidenceB);
const lineItems=(ox)=>[
  {text:"Accuracy",kind:"solid",tx:241+ox,cy:114.5,sx:162+ox,sw:60},
  {text:"Avg. Confidence",kind:"dash",tx:241+ox,cy:154.5,sx:164.5+ox,sw:56}];
legend({l:153.5,t:92.5,w:320,h:88.5},lineItems(0));
legend({l:916.5,t:92.5,w:320,h:88.5},lineItems(763));

// ---------- panel c ----------
mount({l:0,t:740,w:745,h:697},{l:141,r:689,t:800,b:1348},{
  x:{domain:[0,1]},y:{domain:[0,.12]},
  marks:[
    bars(allPredictions,GREEN),bars(incorrect,BLUE),
    Plot.frame({stroke:INK,strokeWidth:2.5}),
    ...axes(ticks01,ticksC,fmt1,fmt2),
    label("Test set",{frameAnchor:"top",dy:-25}),
    label("Confidence",{frameAnchor:"bottom",dy:76}),
    label("% of Sample",{frameAnchor:"left",rotate:-90,textAnchor:"middle",dx:-124,dy:-1}),
    label("c",{frameAnchor:"top-left",fontSize:54,textAnchor:"start",dx:-144,dy:-24})
  ]
});
legend({l:153.5,t:813,w:378,h:88},[
  {text:"Correct Predictions",kind:"patch",color:"#88c295",tx:241,cy:834.5,sx:164.5,sw:55},
  {text:"Incorrect Predictions",kind:"patch",color:"#829cc8",tx:241,cy:875,sx:164.5,sw:55}]);

// ---------- panel d ----------
mount({l:745,t:740,w:695,h:697},{l:884,r:1432,t:800,b:1348},{
  x:{domain:[-100,100]},y:{domain:[-100,100]},color:confidenceColor,
  marks:[
    Plot.gridX(gridTsne,{stroke:"#333",strokeOpacity:.85,strokeWidth:2,strokeDasharray:"2,3.4"}),
    Plot.gridY(gridTsne,{stroke:"#333",strokeOpacity:.85,strokeWidth:2,strokeDasharray:"2,3.4"}),
    Plot.dot(tsnePoints,{x:d=>d[0],y:d=>d[1],fill:d=>d[2],stroke:d=>d[2],r:4.7,fillOpacity:.7,strokeOpacity:.7,strokeWidth:1.5}),
    Plot.frame({stroke:INK,strokeWidth:2.5}),
    ...axes(ticksTsne,ticksTsne,String,String),
    label("Test set",{frameAnchor:"top",dy:-25}),
    label("t-SNE Dimension 1",{frameAnchor:"bottom",dy:76}),
    label("t-SNE Dimension 2",{frameAnchor:"left",rotate:-90,textAnchor:"middle",dx:-124,dy:-1}),
    label("d",{frameAnchor:"top-left",fontSize:54,textAnchor:"start",dx:-144,dy:-24})
  ]
});

// ---------- colour bar ----------
mount({l:1440,t:740,w:154,h:697},{l:1457.5,r:1485,t:800,b:1348},{
  x:{domain:[0,1],axis:null},y:{domain:[0,1],axis:null},color:confidenceColor,
  marks:[
    Plot.rect(colorLevels,{x1:()=>0,x2:()=>1,y1:d=>d,y2:d=>d+1/256,fill:d=>d,shapeRendering:"crispEdges"}),
    Plot.frame({stroke:INK,strokeWidth:2.5}),
    Plot.axisY({anchor:"right",ticks:ticks01,tickFormat:fmt1,tickSize:13,tickPadding:7,stroke:INK,strokeWidth:2.5,fill:INK,fontSize:34,fontFamily:FONT,label:null}),
    label("Confidence Scores",{frameAnchor:"right",rotate:-90,textAnchor:"middle",dx:96})
  ]
});
</script></body></html>
